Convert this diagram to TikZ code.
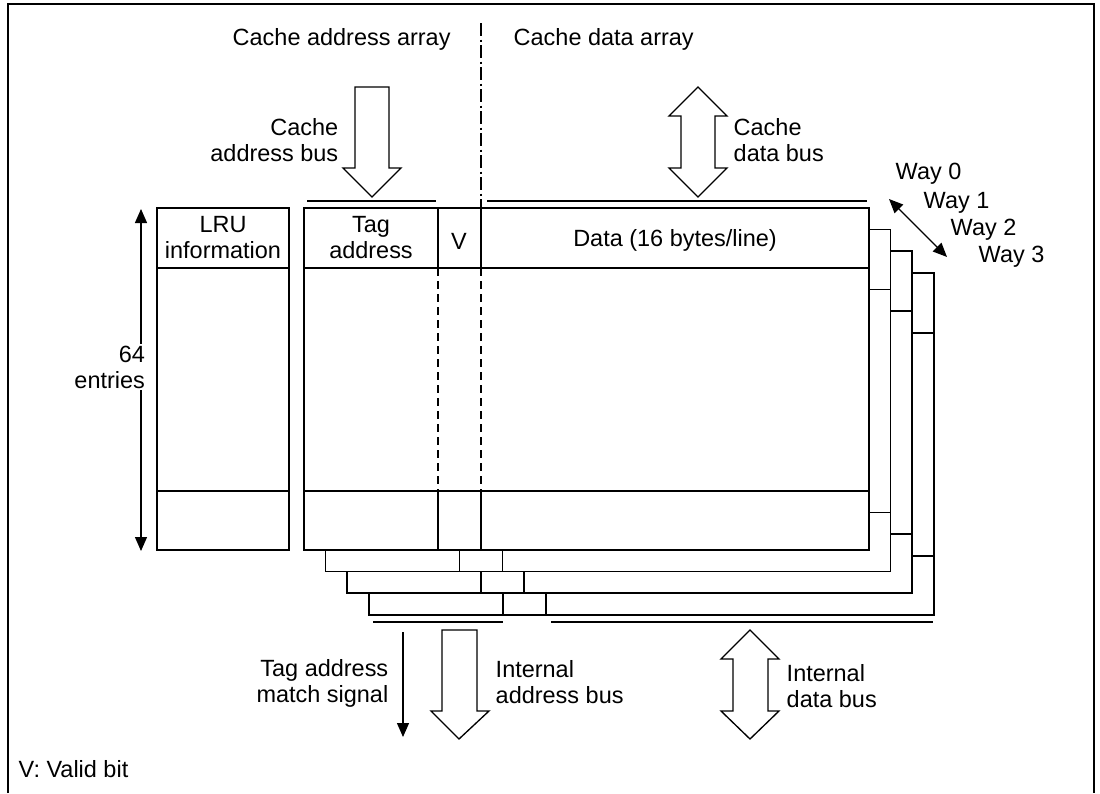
\documentclass[tikz,border=0pt]{standalone}
\usepackage{fontspec}
\setmainfont{Liberation Sans}
\usetikzlibrary{arrows.meta}
\begin{document}
\begin{tikzpicture}[x=0.75pt,y=-0.75pt,
  line width=1.1pt, line join=miter,
  lbl/.style={inner sep=0pt, font=\fontsize{17.6}{19.5}\selectfont},
  thinarrow/.style={line width=1pt, {Triangle[width=9pt,length=10.5pt]}-{Triangle[width=9pt,length=10.5pt]}},
  thinonearrow/.style={line width=1pt, -{Triangle[width=9pt,length=10.5pt]}},
  hollow/.style={line width=1pt, fill=white, line join=miter},
  ddash/.style={dash pattern=on 6pt off 3.75pt},
  dashdot/.style={line width=1pt, dash pattern=on 10pt off 2.5pt on 1.5pt off 2.5pt},
  busline/.style={line width=1.1pt}
]
\useasboundingbox (0,0) rectangle (1100,793);
% frame
\draw[line width=1pt] (8,793) -- (8,4) -- (1094,4) -- (1094,793);

% titles
\node[lbl, anchor=west] (tadr) at (232,39) {Cache address array};
\node[lbl, anchor=west] (tdat) at (513,39) {Cache data array};
\draw[dashdot] (481,23) -- (481,208);

% ways (3 down to 0)
\foreach \k in {3,2,1,0}{
  \pgfmathsetmacro\o{21.6*\k}
  \filldraw[fill=white] (304+\o,208+\o) rectangle (869+\o,550+\o);
  \draw (304+\o,268+\o) -- (869+\o,268+\o);
  \draw (304+\o,491+\o) -- (869+\o,491+\o);
  \ifnum\k>0
    \draw (438+\o,208+\o) -- (438+\o,550+\o);
    \draw (481+\o,208+\o) -- (481+\o,550+\o);
  \fi
}
% way 0 dividers
\draw (438,208) -- (438,268);
\draw (481,208) -- (481,268);
\draw (438,491) -- (438,550);
\draw (481,491) -- (481,550);
\draw[ddash] (438,268) -- (438,491);
\draw[ddash] (481,268) -- (481,491);

% LRU box
\draw (157,208) rectangle (289,550);
\draw (157,268) -- (289,268);
\draw (157,491) -- (289,491);

% cell labels
\node[lbl, align=center] (lru) at (223,238) {LRU\\information};
\node[lbl, align=center] (tag) at (371,238) {Tag\\address};
\node[lbl] (v) at (459,241) {V};
\node[lbl] (data) at (675,240) {Data (16 bytes/line)};

% bus lines
\draw[busline] (307,201) -- (436,201);
\draw[busline] (487,201) -- (867,201);
\draw[busline] (373,622) -- (503,622);
\draw[busline] (551,622) -- (933,622);

% cache address bus arrow
\draw[hollow] (355,87) -- (389,87) -- (389,168) -- (401,168) -- (372,197) -- (343,168) -- (355,168) -- cycle;
\node[lbl, align=right, anchor=east] (cab) at (339,140) {Cache\\address bus};

% cache data bus arrow
\draw[hollow] (698,87) -- (727,116) -- (715,116) -- (715,168) -- (727,168) -- (698,197) -- (669,168) -- (681,168) -- (681,116) -- (669,116) -- cycle;
\node[lbl, align=left, anchor=west] (cdb) at (733,140) {Cache\\data bus};

% internal address bus arrow
\draw[hollow] (442,630) -- (477,630) -- (477,711) -- (489,711) -- (459,739) -- (431,711) -- (442,711) -- cycle;
\node[lbl, align=left, anchor=west] (iab) at (495,682) {Internal\\address bus};

% internal data bus arrow
\draw[hollow] (750,630) -- (779,659) -- (768,659) -- (768,711) -- (779,711) -- (750,739) -- (721,711) -- (733,711) -- (733,659) -- (721,659) -- cycle;
\node[lbl, align=left, anchor=west] (idb) at (786,686) {Internal\\data bus};

% tag address match signal
\coordinate (tmA) at (403,632);
\coordinate (tmB) at (403,737);
\draw[thinonearrow] (tmA) -- (tmB);
\node[lbl, align=right, anchor=east] (tms) at (389,683) {Tag address\\match signal};

% 64 entries
\coordinate (eA) at (141,209);
\coordinate (eB) at (141,551);
\draw[thinarrow] (eA) -- (eB);
\node[lbl, align=right, anchor=east, fill=white, inner sep=1pt] (ent) at (147,367) {64\\entries};

% ways
\coordinate (wA) at (889,199);
\coordinate (wB) at (947,257);
\draw[thinarrow] (wA) -- (wB);
\node[lbl, anchor=west] (w0) at (895,174) {Way 0};
\node[lbl, anchor=west] (w1) at (923,203) {Way 1};
\node[lbl, anchor=west] (w2) at (950,230) {Way 2};
\node[lbl, anchor=west] (w3) at (978,257) {Way 3};

% legend
\node[lbl, anchor=west] (leg) at (18,769) {V: Valid bit};
\end{tikzpicture}
\end{document}
